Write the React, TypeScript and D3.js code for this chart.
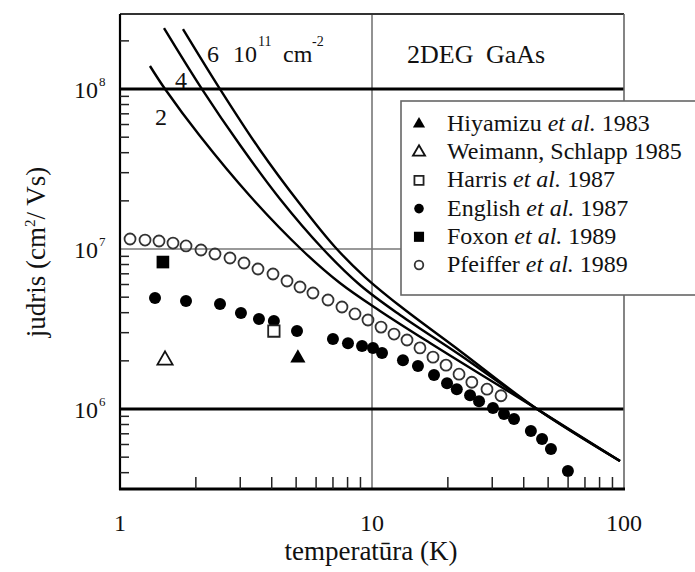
import React from 'react';
import * as d3 from 'd3';

// ---- data (T in K, mobility in cm^2/Vs) ----
const pfeifferT = [1.096, 1.257, 1.428, 1.623, 1.828, 2.096, 2.382, 2.732, 3.105, 3.528, 4.047, 4.6, 5.18, 5.83, 6.69, 7.6, 8.56, 9.64, 10.86, 12.23, 13.77, 15.5, 17.46, 19.67, 22.15, 24.9, 28.6, 32.5];
const pfeifferMu = [1.155e7, 1.137e7, 1.122e7, 1.09e7, 1.045e7, 9.86e6, 9.31e6, 8.79e6, 8.18e6, 7.5e6, 6.98e6, 6.31e6, 5.79e6, 5.31e6, 4.8e6, 4.34e6, 3.93e6, 3.6e6, 3.25e6, 2.94e6, 2.7e6, 2.41e6, 2.11e6, 1.88e6, 1.65e6, 1.47e6, 1.33e6, 1.21e6];

const englishT = [1.377, 1.828, 2.494, 3.02, 3.56, 4.08, 5.04, 7.0, 8.03, 9.13, 10.09, 10.96, 13.27, 15.22, 17.62, 19.85, 21.7, 24.5, 26.6, 30.2, 33.4, 36.6, 42.7, 47.3, 51.3, 59.9];
const englishMu = [4.94e6, 4.73e6, 4.53e6, 3.98e6, 3.65e6, 3.55e6, 3.07e6, 2.74e6, 2.58e6, 2.48e6, 2.41e6, 2.24e6, 2.02e6, 1.86e6, 1.63e6, 1.45e6, 1.33e6, 1.22e6, 1.12e6, 1.015e6, 9.3e5, 8.66e5, 7.29e5, 6.49e5, 5.62e5, 4.1e5];

const foxonT = [1.48];
const foxonMu = [8.29e6];
const weimannT = [1.509];
const weimannMu = [2.02e6];
const harrisT = [4.08];
const harrisMu = [3.07e6];
const hiyamizuT = [5.08];
const hiyamizuMu = [2.08e6];

const curve2T = [1.315, 1.509, 2.077, 3.28, 5.275, 7.46, 10.76, 16.99, 26.83, 45.16, 96.4];
const curve2Mu = [1.393e8, 1.0e8, 5.08e7, 2.143e7, 9.86e6, 6.13e6, 4.1e6, 2.585e6, 1.655e6, 1.0e6, 4.73e5];
const curve4T = [1.495, 2.115, 2.994, 4.315, 6.39, 8.96, 12.92, 22.35, 45.16, 96.4];
const curve4Mu = [2.405e8, 1.0e8, 4.467e7, 2.054e7, 1.0e7, 5.96e6, 3.87e6, 2.176e6, 1.0e6, 4.73e5];
const curve6T = [1.778, 2.494, 3.594, 5.18, 7.13, 9.38, 12.92, 22.35, 45.16, 96.4];
const curve6Mu = [2.371e8, 1.0e8, 4.16e7, 1.91e7, 1.029e7, 6.68e6, 4.4e6, 2.305e6, 1.0e6, 4.73e5];

const xMajorTicks = [1, 10, 100];
const xMajorLabels = ['1', '10', '100'];
const xMinorTicks = [2, 3, 4, 5, 6, 7, 8, 9, 20, 30, 40, 50, 60, 70, 80, 90];
const yMajorTicks = [1e6, 1e7, 1e8];
const yMajorExps = ['6', '7', '8'];
const yMinorTicks = [4e5, 5e5, 6e5, 7e5, 8e5, 9e5, 2e6, 3e6, 4e6, 5e6, 6e6, 7e6, 8e6, 9e6, 2e7, 3e7, 4e7, 5e7, 6e7, 7e7, 8e7, 9e7, 2e8];

const legendNames = ['Hiyamizu', 'Weimann, Schlapp', 'Harris', 'English', 'Foxon', 'Pfeiffer'];
const legendEtAl = [true, false, true, true, true, true];
const legendYears = ['1983', '1985', '1987', '1987', '1989', '1989'];
const legendMarkers = ['triFill', 'triOpen', 'sqOpen', 'circFill', 'sqFill', 'circOpen'];

const FONT = '"Liberation Serif", "Times New Roman", serif';

function Marker({ kind, cx, cy, scale = 1 }: { kind: string; cx: number; cy: number; scale?: number }) {
  const tri = d3.symbol(d3.symbolTriangle, 100 * scale * scale)() as string;
  const sq = d3.symbol(d3.symbolSquare, 160 * scale * scale)() as string;
  const sqO = d3.symbol(d3.symbolSquare, 130 * scale * scale)() as string;
  const r = 6 * scale;
  const t = `translate(${cx},${cy})`;
  switch (kind) {
    case 'triFill':
      return <path d={tri} transform={t} fill="#000" />;
    case 'triOpen':
      return <path d={tri} transform={t} fill="#fff" stroke="#111" strokeWidth={1.8} />;
    case 'sqOpen':
      return <path d={sqO} transform={t} fill="#fff" stroke="#222" strokeWidth={1.8} />;
    case 'sqFill':
      return <path d={sq} transform={t} fill="#000" />;
    case 'circFill':
      return <circle cx={cx} cy={cy} r={r} fill="#000" />;
    default:
      return <circle cx={cx} cy={cy} r={r - 0.5} fill="none" stroke="#333" strokeWidth={1.8} />;
  }
}

export default function App() {
  const W = 695, H = 572;
  const L = 120, R = 624, T = 14, B = 489;
  const x = d3.scaleLog().domain([1, 100]).range([L, R]);
  const y = d3.scaleLog().domain([Math.pow(10, 5.5), Math.pow(10, 8.469)]).range([B, T]);

  const line = d3.line<[number, number]>()
    .x(d => x(d[0]))
    .y(d => y(d[1]))
    .curve(d3.curveCatmullRom.alpha(0.5));
  const curves = [
    d3.zip(curve2T, curve2Mu) as [number, number][],
    d3.zip(curve4T, curve4Mu) as [number, number][],
    d3.zip(curve6T, curve6Mu) as [number, number][],
  ];

  const legX = 401, legY = 101, legH = 194, rowH = 28.2;

  return (
    <svg width={W} height={H} style={{ position: 'absolute', left: 0, top: 0, background: '#fff' }} fontFamily={FONT}>
      <rect x={0} y={0} width={W} height={H} fill="#fff" />
      {/* grid lines */}
      <line x1={x(10)} x2={x(10)} y1={T} y2={B} stroke="#777" strokeWidth={1.6} />
      <line x1={L} x2={R} y1={y(1e7)} y2={y(1e7)} stroke="#777" strokeWidth={1.6} />
      <line x1={L} x2={R} y1={y(1e8)} y2={y(1e8)} stroke="#000" strokeWidth={3} />
      <line x1={L} x2={R} y1={y(1e6)} y2={y(1e6)} stroke="#000" strokeWidth={3} />
      {/* frame */}
      <line x1={L} x2={R} y1={T} y2={T} stroke="#333" strokeWidth={2} />
      <line x1={R} x2={R} y1={T} y2={B} stroke="#666" strokeWidth={1.6} />
      <line x1={L} x2={L} y1={T} y2={B + 1} stroke="#000" strokeWidth={2.2} />
      <line x1={L - 1} x2={R + 1} y1={B} y2={B} stroke="#000" strokeWidth={3} />
      {/* minor ticks */}
      {yMinorTicks.map((v, i) => (
        <line key={'ym' + i} x1={L} x2={L + 9} y1={y(v)} y2={y(v)} stroke="#222" strokeWidth={1.5} />
      ))}
      {xMinorTicks.map((v, i) => (
        <line key={'xm' + i} x1={x(v)} x2={x(v)} y1={B} y2={B - 12} stroke="#222" strokeWidth={1.5} />
      ))}
      {/* tick labels */}
      {yMajorTicks.map((v, i) => (
        <g key={'yl' + i}>
          <text x={98} y={y(v) + 9} textAnchor="end" fontSize={24} fill="#111">10</text>
          <text x={99} y={y(v) - 3} fontSize={13} fill="#111">{yMajorExps[i]}</text>
        </g>
      ))}
      {xMajorTicks.map((v, i) => (
        <text key={'xl' + i} x={x(v)} y={531} textAnchor="middle" fontSize={24} fill="#111">{xMajorLabels[i]}</text>
      ))}
      {/* axis titles */}
      <text x={371} y={560} textAnchor="middle" fontSize={27} fill="#111">temperatūra (K)</text>
      <text transform="translate(45,252) rotate(-90)" textAnchor="middle" fontSize={27} fill="#111">
        judris (cm<tspan dy={-10} fontSize={15}>2</tspan><tspan dy={10}>/ Vs)</tspan>
      </text>
      {/* theory curves */}
      {curves.map((c, i) => (
        <path key={'c' + i} d={line(c) as string} fill="none" stroke="#000" strokeWidth={2.4} />
      ))}
      {/* curve labels */}
      <text x={155} y={125} fontSize={24} fill="#111">2</text>
      <text x={175} y={88} fontSize={24} fill="#111">4</text>
      <text x={207} y={62} fontSize={24} fill="#111">6</text>
      <text x={233} y={62} fontSize={24} fill="#111">10</text>
      <text x={258} y={46} fontSize={14} fill="#111">11</text>
      <text x={283} y={62} fontSize={24} fill="#111">cm</text>
      <text x={312} y={46} fontSize={14} fill="#111">-2</text>
      <text x={407} y={63} fontSize={26} fill="#111">2DEG</text>
      <text x={486} y={63} fontSize={26} fill="#111">GaAs</text>
      {/* data */}
      {pfeifferT.map((t, i) => (
        <Marker key={'p' + i} kind="circOpen" cx={x(t)} cy={y(pfeifferMu[i])} />
      ))}
      {englishT.map((t, i) => (
        <Marker key={'e' + i} kind="circFill" cx={x(t)} cy={y(englishMu[i])} />
      ))}
      {foxonT.map((t, i) => (
        <Marker key={'f' + i} kind="sqFill" cx={x(t)} cy={y(foxonMu[i])} />
      ))}
      {weimannT.map((t, i) => (
        <Marker key={'w' + i} kind="triOpen" cx={x(t)} cy={y(weimannMu[i])} />
      ))}
      {harrisT.map((t, i) => (
        <Marker key={'h' + i} kind="sqOpen" cx={x(t)} cy={y(harrisMu[i])} />
      ))}
      {hiyamizuT.map((t, i) => (
        <Marker key={'hy' + i} kind="triFill" cx={x(t)} cy={y(hiyamizuMu[i])} />
      ))}
      {/* legend */}
      <rect x={legX} y={legY} width={320} height={legH} fill="#fff" stroke="#666" strokeWidth={1.6} />
      {legendNames.map((n, i) => {
        const by = 131 + i * rowH;
        return (
          <g key={'lg' + i}>
            <Marker kind={legendMarkers[i]} cx={419} cy={by - 7} scale={0.8} />
            <text x={447} y={by} fontSize={24} fill="#111">
              {n}
              {legendEtAl[i] ? <tspan fontStyle="italic"> et al.</tspan> : null}
              {' ' + legendYears[i]}
            </text>
          </g>
        );
      })}
    </svg>
  );
}
